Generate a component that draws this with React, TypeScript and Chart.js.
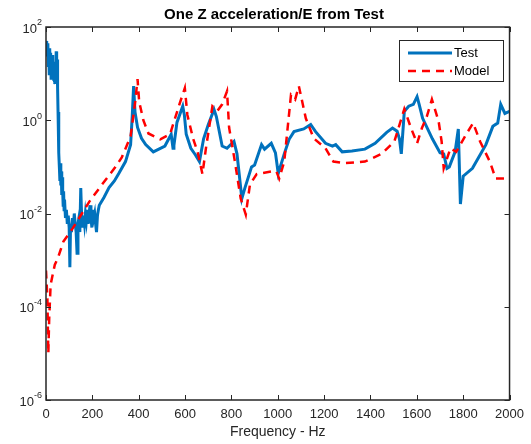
import React, { useEffect, useRef } from 'react';
import { Chart, registerables } from 'chart.js';
Chart.register(...registerables);

const chartTitle = 'One Z acceleration/E from Test';
const xAxisTitle = 'Frequency - Hz';
const seriesNames = ['Test', 'Model'];
const xTicks = [0, 200, 400, 600, 800, 1000, 1200, 1400, 1600, 1800, 2000];
const yTickExps = [-6, -4, -2, 0, 2];

const testFreq = [
  0, 3, 6, 8, 10, 12, 14, 16, 18, 20, 22, 24, 26, 28, 30, 32, 34, 36, 38, 40, 42, 44, 46, 48, 50,
  52, 54, 56, 58, 60, 62, 64, 66, 68, 70, 72, 74, 76, 78, 80, 84, 88, 92, 96, 100, 103, 106, 110,
  114, 118, 122, 126, 130, 134, 138, 142, 146, 150, 154, 158, 162, 166, 170, 174, 178, 182, 186,
  190, 194, 198, 202, 206, 210, 214, 218, 222, 226, 230, 250, 272, 295, 314, 343, 365, 372,
  378, 384, 395, 412, 430, 463, 513, 540, 548, 552, 565, 590, 597, 605, 625, 645, 662, 680,
  700, 725, 735, 760, 781, 811, 824, 845, 858, 887, 900, 930, 943, 972, 990, 1002, 1028, 1049,
  1070, 1112, 1142, 1163, 1206, 1236, 1250, 1278, 1320, 1376, 1420, 1470, 1495, 1515, 1525, 1533,
  1546, 1565, 1585, 1601, 1610, 1625, 1667, 1700, 1716, 1730, 1740, 1765, 1779, 1788, 1800, 1840,
  1898, 1928, 1949, 1962, 1980, 2000,
];
const testVal = [
  50, 40, 25, 45, 15, 30, 10, 35, 12, 28, 8, 20, 10, 25, 9, 18, 7, 15, 6, 12, 8, 30, 10, 20, 5,
  1.5, 0.5, 0.2, 0.09, 0.05, 0.12, 0.04, 0.08, 0.025, 0.06, 0.03, 0.015, 0.03, 0.012, 0.02, 0.008,
  0.012, 0.006, 0.009, 0.005, 0.0007, 0.006, 0.004, 0.008, 0.005, 0.01, 0.006, 0.004, 0.0014, 0.006,
  0.008, 0.004, 0.035, 0.008, 0.005, 0.009, 0.006, 0.01, 0.007, 0.012, 0.006, 0.01, 0.015, 0.008,
  0.005, 0.012, 0.008, 0.01, 0.006, 0.004, 0.009, 0.012, 0.015, 0.022, 0.036, 0.05, 0.072, 0.13,
  0.3, 1.2, 5.4, 1.5, 0.7, 0.41, 0.3, 0.21, 0.28, 0.5, 0.25, 0.29, 0.9, 2.0, 1.3, 0.5,
  0.25, 0.18, 0.13, 0.4, 0.8, 1.7, 1.2, 0.28, 0.25, 0.35, 0.19, 0.021, 0.035, 0.1, 0.11, 0.3, 0.24,
  0.32, 0.2, 0.072, 0.19, 0.39, 0.57, 0.65, 0.81, 0.57, 0.32, 0.28, 0.3, 0.21, 0.22, 0.24, 0.32, 0.55,
  0.68, 0.58, 0.4, 0.19, 1.55, 2.0, 2.2, 3.2, 2.2, 1.1, 0.4, 0.2, 0.19, 0.093, 0.1, 0.21, 0.65,
  0.016, 0.063, 0.093, 0.3, 0.74, 0.87, 2.2, 1.4, 1.55,
];

const modelFreq = [
  0, 6, 10, 14, 20, 38, 51, 75, 115, 187, 242, 300, 327, 365, 385, 395, 402, 420, 442, 493, 535,
  577, 599, 610, 635, 654, 675, 690, 718, 740, 760, 781, 790, 815, 840, 862, 880, 909, 972,
  994, 1006, 1028, 1057, 1075, 1091, 1121, 1155, 1206, 1240, 1290, 1376, 1448, 1503, 1546, 1575,
  1601, 1622, 1643, 1665, 1694, 1707, 1716, 1745, 1770, 1813, 1843, 1873, 1915, 1940, 2000,
];
const modelVal = [
  6e-4, 1.5e-4, 1e-5, 6e-5, 3e-4, 8e-4, 1.1e-3, 2.5e-3, 4.8e-3, 0.018, 0.042, 0.1, 0.16, 0.45, 2.5,
  7.6, 2.5, 1.0, 0.52, 0.39, 0.5, 2.3, 4.9, 1.3, 0.4, 0.21, 0.07, 0.25, 2.0, 1.6, 2.2, 4.2,
  0.7, 0.13, 0.021, 0.0095, 0.042, 0.07, 0.08, 0.08, 0.056, 0.13, 3.5, 2.8, 5.4, 1.1, 0.41, 0.25,
  0.13, 0.12, 0.13, 0.19, 0.35, 1.74, 0.68, 0.32, 0.68, 1.2, 2.8, 0.95, 0.35, 0.093, 0.25, 0.21,
  0.5, 0.87, 0.35, 0.13, 0.056, 0.056,
];

const FONT = '"Liberation Sans", Arial, Helvetica, sans-serif';
const AXIS = '#262626';
const BLUE = '#0072BD';
const RED = '#FF0000';

export default function App() {
  const ref = useRef<HTMLCanvasElement>(null);
  useEffect(() => {
    const decor = {
      id: 'decor',
      afterDatasetsDraw(chart: any) {
        const ctx = chart.ctx as CanvasRenderingContext2D;
        const a = chart.chartArea;
        const xs = chart.scales.x;
        const ys = chart.scales.y;
        ctx.save();
        ctx.strokeStyle = AXIS;
        ctx.lineWidth = 1.5;
        ctx.strokeRect(a.left, a.top, a.right - a.left, a.bottom - a.top);
        ctx.lineWidth = 1;
        ctx.beginPath();
        xTicks.forEach((v) => {
          const px = Math.round(xs.getPixelForValue(v)) + 0.5;
          ctx.moveTo(px, a.bottom);
          ctx.lineTo(px, a.bottom - 5);
          ctx.moveTo(px, a.top);
          ctx.lineTo(px, a.top + 5);
        });
        yTickExps.forEach((e) => {
          const py = Math.round(ys.getPixelForValue(Math.pow(10, e))) + 0.5;
          ctx.moveTo(a.left, py);
          ctx.lineTo(a.left + 5, py);
          ctx.moveTo(a.right, py);
          ctx.lineTo(a.right - 5, py);
        });
        ctx.stroke();
        ctx.fillStyle = AXIS;
        yTickExps.forEach((e) => {
          const py = ys.getPixelForValue(Math.pow(10, e));
          const expStr = String(e);
          ctx.font = `9px ${FONT}`;
          const ew = ctx.measureText(expStr).width;
          ctx.textAlign = 'right';
          ctx.textBaseline = 'middle';
          ctx.fillText(expStr, a.left - 4, py - 4);
          ctx.font = `13px ${FONT}`;
          ctx.fillText('10', a.left - 4 - ew, py + 2);
        });
        ctx.font = `bold 15px ${FONT}`;
        ctx.textAlign = 'center';
        ctx.textBaseline = 'middle';
        ctx.fillStyle = '#000';
        ctx.fillText(chartTitle, 274, 15);
        ctx.font = `14px ${FONT}`;
        ctx.fillStyle = AXIS;
        ctx.fillText(xAxisTitle, (a.left + a.right) / 2, 432);
        const lx = 399, ly = 40, lw = 104, lh = 41;
        ctx.fillStyle = '#fff';
        ctx.fillRect(lx, ly, lw, lh);
        ctx.strokeStyle = AXIS;
        ctx.lineWidth = 1;
        ctx.strokeRect(lx + 0.5, ly + 0.5, lw, lh);
        const rows = [
          { y: 53, color: BLUE, dash: [] as number[], w: 3 },
          { y: 71, color: RED, dash: [8, 6], w: 2.5 },
        ];
        rows.forEach((r, i) => {
          ctx.beginPath();
          ctx.setLineDash(r.dash);
          ctx.strokeStyle = r.color;
          ctx.lineWidth = r.w;
          ctx.moveTo(408, r.y);
          ctx.lineTo(452, r.y);
          ctx.stroke();
          ctx.setLineDash([]);
          ctx.font = `13px ${FONT}`;
          ctx.fillStyle = '#000';
          ctx.textAlign = 'left';
          ctx.textBaseline = 'middle';
          ctx.fillText(seriesNames[i], 454, r.y);
        });
        ctx.restore();
      },
    };

    const chart = new Chart(ref.current as HTMLCanvasElement, {
      type: 'line',
      data: {
        datasets: [
          {
            label: seriesNames[0],
            data: testFreq.map((f, i) => ({ x: f, y: testVal[i] })),
            borderColor: BLUE,
            backgroundColor: BLUE,
            borderWidth: 3,
            pointRadius: 0,
            tension: 0,
            order: 1,
          },
          {
            label: seriesNames[1],
            data: modelFreq.map((f, i) => ({ x: f, y: modelVal[i] })),
            borderColor: RED,
            backgroundColor: RED,
            borderWidth: 2.5,
            borderDash: [8, 6],
            pointRadius: 0,
            tension: 0,
            order: 0,
          },
        ],
      },
      options: {
        animation: false,
        responsive: false,
        layout: { autoPadding: false, padding: { top: 27, right: 14, left: 0, bottom: 0 } },
        plugins: { legend: { display: false }, title: { display: false }, tooltip: { enabled: false } },
        scales: {
          x: {
            type: 'linear',
            min: 0,
            max: 2000,
            afterBuildTicks: (s: any) => {
              s.ticks = xTicks.map((v) => ({ value: v }));
            },
            afterFit: (s: any) => {
              s.height = 44;
            },
            grid: { display: false, drawTicks: false },
            border: { display: false },
            ticks: {
              padding: 7,
              color: AXIS,
              font: { family: FONT, size: 13 },
              maxRotation: 0,
              autoSkip: false,
              callback: (v: any) => String(v),
            },
          },
          y: {
            type: 'logarithmic',
            min: 1e-6,
            max: 1e2,
            afterBuildTicks: (s: any) => {
              s.ticks = yTickExps.map((e) => ({ value: Math.pow(10, e) }));
            },
            afterFit: (s: any) => {
              s.width = 46;
            },
            grid: { display: false, drawTicks: false },
            border: { display: false },
            ticks: { display: false },
          },
        },
      },
      plugins: [decor],
    } as any);
    return () => chart.destroy();
  }, []);
  return (
    <div style={{ position: 'fixed', left: 0, top: 0, width: 531, height: 444, background: '#fff' }}>
      <canvas ref={ref} width={531} height={444} style={{ display: 'block' }} />
    </div>
  );
}
